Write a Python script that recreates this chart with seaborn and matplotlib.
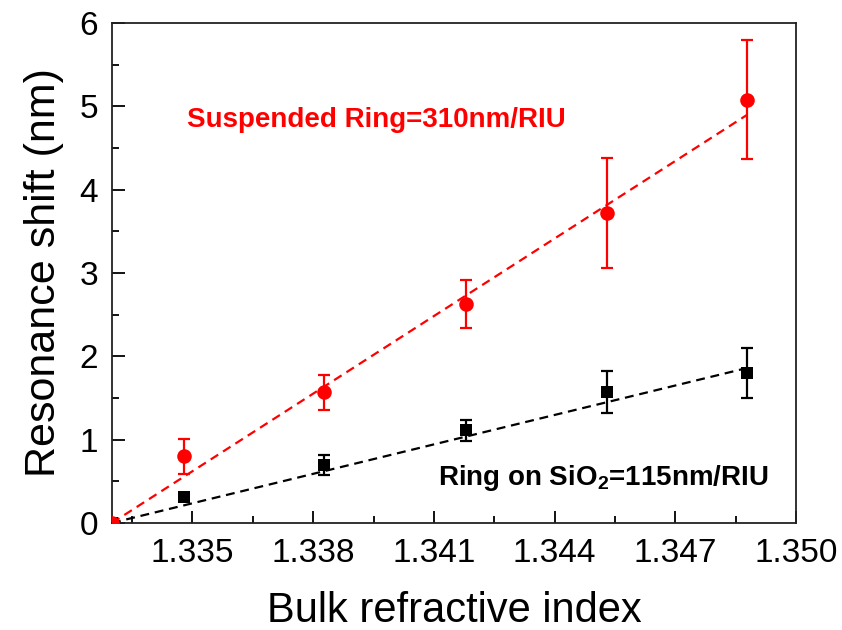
import matplotlib
matplotlib.use("Agg")
import matplotlib.pyplot as plt
from matplotlib.ticker import MultipleLocator
import seaborn as sns
import pandas as pd

# ---- data ----
n_index = [1.3330, 1.33478, 1.33827, 1.3418, 1.34531, 1.34879]
susp_shift = [0.0, 0.80, 1.57, 2.63, 3.72, 5.08]
susp_err = [0.0, 0.21, 0.21, 0.29, 0.66, 0.71]
sio2_shift = [0.0, 0.31, 0.70, 1.11, 1.57, 1.80]
sio2_err = [0.0, 0.04, 0.12, 0.13, 0.25, 0.30]
fit_x = [1.3330, 1.34879]
susp_fit = [0.0, 4.90]
sio2_fit = [0.0, 1.86]

xticks = [1.335, 1.338, 1.341, 1.344, 1.347, 1.350]
susp_label = "Suspended Ring=310nm/RIU"
sio2_label = r"Ring on SiO$_2$=115nm/RIU"

sns.set_style("ticks")
plt.rcParams['font.family'] = ['Liberation Sans', 'DejaVu Sans']
plt.rcParams['mathtext.fontset'] = 'custom'
plt.rcParams['mathtext.rm'] = 'Liberation Sans'
plt.rcParams['mathtext.bf'] = 'Liberation Sans:bold'
plt.rcParams['mathtext.default'] = 'bf'
plt.rcParams['text.color'] = 'black'
plt.rcParams['axes.labelcolor'] = 'black'
plt.rcParams['xtick.color'] = 'black'
plt.rcParams['ytick.color'] = 'black'

df = pd.DataFrame({"n": n_index, "susp": susp_shift, "susp_err": susp_err,
                   "sio2": sio2_shift, "sio2_err": sio2_err})
fit_df = pd.DataFrame({"n": fit_x, "susp": susp_fit, "sio2": sio2_fit})

fig = plt.figure(figsize=(8.42, 6.30), dpi=100)
ax = fig.add_axes([0.133, 0.170, 0.8125, 0.7935])

RED = "#ff0000"
BLACK = "#000000"
dash = (0, (4, 2.6))

# fit lines
sns.lineplot(data=fit_df, x="n", y="susp", ax=ax, color=RED, lw=1.6,
             linestyle=dash, zorder=2)
sns.lineplot(data=fit_df, x="n", y="sio2", ax=ax, color=BLACK, lw=1.6,
             linestyle=dash, zorder=2)

# error bars
ax.errorbar(df["n"], df["sio2"], yerr=df["sio2_err"], fmt="none",
            ecolor=BLACK, elinewidth=1.6, capsize=4.5, capthick=1.6, zorder=3)
ax.errorbar(df["n"], df["susp"], yerr=df["susp_err"], fmt="none",
            ecolor=RED, elinewidth=1.6, capsize=4.5, capthick=1.6, zorder=3)

# markers
sns.scatterplot(data=df, x="n", y="sio2", ax=ax, marker="s", s=75,
                color=BLACK, edgecolor=BLACK, linewidth=0, zorder=4)
sns.scatterplot(data=df, x="n", y="susp", ax=ax, marker="o", s=110,
                color=RED, edgecolor=RED, linewidth=0, zorder=5)

ax.set_xlim(1.333, 1.350)
ax.set_ylim(0, 6)
ax.set_xticks(xticks)
ax.set_xticklabels([f"{t:.3f}" for t in xticks])
ax.yaxis.set_major_locator(MultipleLocator(1))
ax.yaxis.set_minor_locator(MultipleLocator(0.5))
ax.set_xticks([1.3335, 1.3365, 1.3395, 1.3425, 1.3455, 1.3485], minor=True)

ax.tick_params(axis="both", which="major", direction="in", length=9, width=1.3,
               labelsize=24, pad=11, top=False, right=False,
               colors="black", labelcolor="black")
ax.tick_params(axis="both", which="minor", direction="in", length=5, width=1.3,
               top=False, right=False, colors="black")
ax.tick_params(axis="y", which="major", pad=10)
for sp in ax.spines.values():
    sp.set_linewidth(1.3)
    sp.set_color("#222222")
    sp.set_visible(True)

ax.set_xlabel("Bulk refractive index", fontsize=30, labelpad=16, color="black")
ax.set_ylabel("Resonance shift (nm)", fontsize=31, labelpad=11, color="black")

ax.text(1.33486, 4.84, susp_label, color=RED, fontsize=20, fontweight="bold",
        ha="left", va="center")
ax.text(1.34111, 0.54, sio2_label, color=BLACK, fontsize=20, fontweight="bold",
        ha="left", va="center")

fig.savefig("out.png", dpi=100)
